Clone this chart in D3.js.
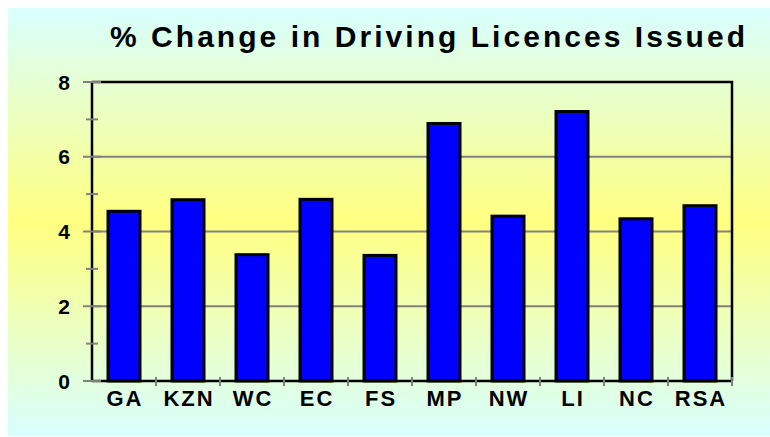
<!DOCTYPE html>
<html>
<head>
<meta charset="utf-8">
<script src="https://cdn.jsdelivr.net/npm/d3@7"></script>
<style>
  body { margin: 0; background: #fff; }
  svg { display: block; font-family: "Liberation Sans", Arial, sans-serif; }
</style>
</head>
<body>
<svg id="chart" width="770" height="437"></svg>
<script>
const categories = ["GA", "KZN", "WC", "EC", "FS", "MP", "NW", "LI", "NC", "RSA"];
const values = [4.54, 4.85, 3.38, 4.86, 3.36, 6.89, 4.41, 7.21, 4.34, 4.69];
const majorTicks = [0, 2, 4, 6, 8];
const minorTicks = [1, 3, 5, 7];
const title = "% Change in Driving Licences Issued";

const svg = d3.select("#chart");
const W = 770, H = 437;
const plot = { left: 92, right: 732, top: 82, bottom: 381 };

// background gradient
const defs = svg.append("defs");
const grad = defs.append("linearGradient")
  .attr("id", "bg").attr("x1", 0).attr("y1", 0).attr("x2", 0).attr("y2", 1);
grad.append("stop").attr("offset", "0%").attr("stop-color", "#d8ffff");
grad.append("stop").attr("offset", "50%").attr("stop-color", "#ffff80");
grad.append("stop").attr("offset", "100%").attr("stop-color", "#d8ffff");

svg.append("rect")
  .attr("x", 8).attr("y", 8)
  .attr("width", W - 8).attr("height", H - 9)
  .attr("fill", "url(#bg)");

const x = d3.scaleBand().domain(categories).range([plot.left, plot.right]);
const y = d3.scaleLinear().domain([0, 8]).range([plot.bottom, plot.top]);

// gridlines
svg.append("g")
  .selectAll("line")
  .data(majorTicks.filter(t => t > 0 && t < 8))
  .join("line")
  .attr("x1", plot.left).attr("x2", plot.right)
  .attr("y1", d => y(d)).attr("y2", d => y(d))
  .attr("stroke", "#808080").attr("stroke-width", 2);

// bars
const barW = x.bandwidth() * 0.5;
svg.append("g")
  .selectAll("rect")
  .data(categories.map((c, i) => ({ c, v: values[i] })))
  .join("rect")
  .attr("x", d => x(d.c) + (x.bandwidth() - barW) / 2)
  .attr("y", d => y(d.v))
  .attr("width", barW)
  .attr("height", d => y(0) - y(d.v))
  .attr("fill", "#0000ff")
  .attr("stroke", "#000")
  .attr("stroke-width", 3);

// frame
const frame = svg.append("g").attr("fill", "none").attr("stroke", "#000").attr("stroke-width", 2.5);
frame.append("path")
  .attr("d", `M${plot.left},${plot.top}H${plot.right}V${plot.bottom}`);
frame.append("line")
  .attr("x1", plot.left).attr("x2", plot.left)
  .attr("y1", plot.top).attr("y2", plot.bottom);
frame.append("line")
  .attr("x1", plot.left).attr("x2", plot.right)
  .attr("y1", plot.bottom).attr("y2", plot.bottom);

// y ticks
const yAxis = svg.append("g").attr("stroke", "#808080").attr("stroke-width", 2);
yAxis.selectAll(".major").data(majorTicks).join("line")
  .attr("class", "major")
  .attr("x1", plot.left - 9).attr("x2", plot.left + 9)
  .attr("y1", d => y(d)).attr("y2", d => y(d));
yAxis.selectAll(".minor").data(minorTicks).join("line")
  .attr("class", "minor")
  .attr("x1", plot.left - 6).attr("x2", plot.left + 6)
  .attr("y1", d => y(d)).attr("y2", d => y(d));

svg.append("g")
  .selectAll("text")
  .data(majorTicks)
  .join("text")
  .attr("x", 70)
  .attr("y", d => y(d))
  .attr("dy", "0.36em")
  .attr("text-anchor", "end")
  .attr("font-size", 21)
  .attr("font-weight", "bold")
  .text(d => d);

// x ticks at category boundaries
const bounds = categories.slice(1).map(c => x(c)).concat([plot.right]);
svg.append("g")
  .selectAll("line")
  .data(bounds)
  .join("line")
  .attr("x1", d => d).attr("x2", d => d)
  .attr("y1", plot.bottom - 4).attr("y2", plot.bottom + 5)
  .attr("stroke", "#808080").attr("stroke-width", 2);

svg.append("g")
  .selectAll("text")
  .data(categories)
  .join("text")
  .attr("x", d => x(d) + x.bandwidth() / 2 + 1)
  .attr("y", 406)
  .attr("text-anchor", "middle")
  .attr("font-size", 22)
  .attr("font-weight", "bold")
  .attr("letter-spacing", 2)
  .text(d => d);

// title
svg.append("text")
  .attr("x", 110)
  .attr("y", 47)
  .attr("font-size", 30)
  .attr("font-weight", "bold")
  .attr("textLength", 635)
  .attr("lengthAdjust", "spacing")
  .text(title);
</script>
</body>
</html>
